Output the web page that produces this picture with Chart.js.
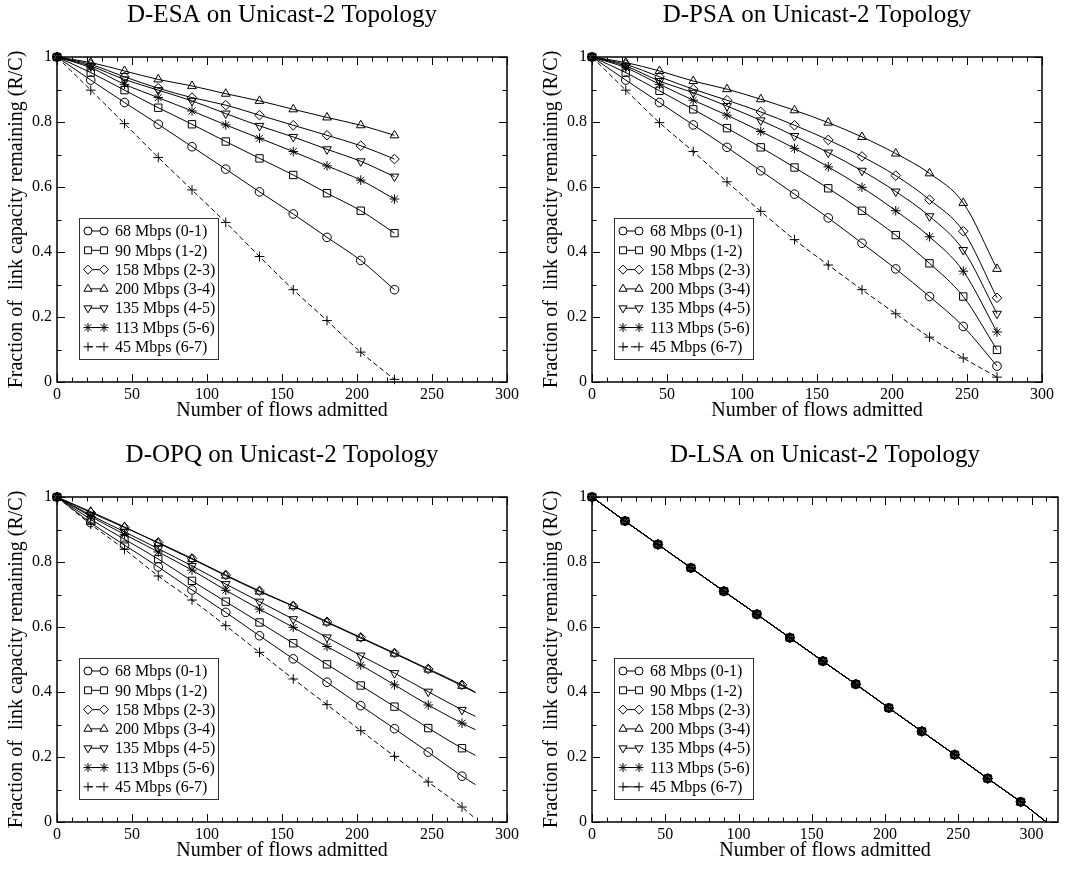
<!DOCTYPE html>
<html lang="en">
<head>
<meta charset="UTF-8">
<title>Link capacity remaining - Unicast-2 Topology</title>
<script src="https://cdn.jsdelivr.net/npm/chart.js@4.4.0/dist/chart.umd.min.js"></script>
<style>
  * { margin:0; padding:0; box-sizing:border-box; }
  body { background:#fff; width:1075px; height:871px; position:relative; overflow:hidden; }
  .panel { position:absolute; }
  #p1 { left:0; top:0; }
  #p2 { left:535px; top:0; }
  #p3 { left:0; top:440px; }
  #p4 { left:535px; top:440px; }
</style>
</head>
<body>
<div class="panel" id="p1"><canvas id="cEsa" width="537" height="430"></canvas></div>
<div class="panel" id="p2"><canvas id="cPsa" width="540" height="430"></canvas></div>
<div class="panel" id="p3"><canvas id="cOpq" width="537" height="430"></canvas></div>
<div class="panel" id="p4"><canvas id="cLsa" width="540" height="430"></canvas></div>

<script>
// ---- data ----
const seriesLabels = ['68 Mbps (0-1)','90 Mbps (1-2)','158 Mbps (2-3)','200 Mbps (3-4)','135 Mbps (4-5)','113 Mbps (5-6)','45 Mbps (6-7)'];
const xTitle = 'Number of flows admitted';
const yTitle = 'Fraction of  link capacity remaining (R/C)';

// D-ESA
const xEsa   = [0, 22.5, 45, 67.5, 90, 112.5, 135, 157.5, 180, 202.5, 225];
const esa68  = [1, 0.929, 0.860, 0.793, 0.724, 0.655, 0.585, 0.517, 0.445, 0.374, 0.284];
const esa90  = [1, 0.952, 0.898, 0.844, 0.793, 0.740, 0.688, 0.637, 0.581, 0.527, 0.458];
const esa158 = [1, 0.977, 0.939, 0.904, 0.875, 0.852, 0.821, 0.790, 0.759, 0.727, 0.686];
const esa200 = [1, 0.983, 0.957, 0.931, 0.911, 0.887, 0.865, 0.839, 0.814, 0.790, 0.759];
const esa135 = [1, 0.972, 0.931, 0.898, 0.865, 0.826, 0.788, 0.754, 0.716, 0.679, 0.632];
const esa113 = [1, 0.967, 0.916, 0.875, 0.834, 0.791, 0.750, 0.709, 0.665, 0.621, 0.563];
const esa45  = [1, 0.898, 0.795, 0.691, 0.591, 0.491, 0.386, 0.284, 0.189, 0.092, 0.008];

// D-PSA
const xPsa   = [0, 22.5, 45, 67.5, 90, 112.5, 135, 157.5, 180, 202.5, 225, 247.5, 270];
const psa68  = [1, 0.929, 0.860, 0.791, 0.722, 0.650, 0.578, 0.505, 0.427, 0.348, 0.263, 0.171, 0.049];
const psa90  = [1, 0.952, 0.896, 0.839, 0.781, 0.722, 0.660, 0.596, 0.527, 0.452, 0.365, 0.263, 0.099];
const psa158 = [1, 0.977, 0.939, 0.901, 0.867, 0.831, 0.790, 0.745, 0.694, 0.635, 0.561, 0.464, 0.259];
const psa200 = [1, 0.983, 0.957, 0.926, 0.901, 0.870, 0.836, 0.798, 0.754, 0.703, 0.642, 0.551, 0.348];
const psa135 = [1, 0.972, 0.926, 0.890, 0.849, 0.805, 0.757, 0.706, 0.650, 0.586, 0.510, 0.406, 0.210];
const psa113 = [1, 0.967, 0.916, 0.867, 0.821, 0.771, 0.719, 0.662, 0.599, 0.527, 0.447, 0.341, 0.154];
const psa45  = [1, 0.898, 0.798, 0.709, 0.616, 0.525, 0.438, 0.360, 0.284, 0.210, 0.138, 0.074, 0.015];

// D-OPQ (last point has no marker)
const xOpq   = [0, 22.5, 45, 67.5, 90, 112.5, 135, 157.5, 180, 202.5, 225, 247.5, 270, 279];
const opq68  = [1, 0.921, 0.852, 0.785, 0.714, 0.645, 0.573, 0.502, 0.430, 0.358, 0.287, 0.215, 0.141, 0.115];
const opq90  = [1, 0.931, 0.870, 0.809, 0.742, 0.678, 0.614, 0.550, 0.485, 0.420, 0.355, 0.289, 0.227, 0.205];
const opq158 = [1, 0.952, 0.906, 0.860, 0.811, 0.760, 0.711, 0.665, 0.616, 0.568, 0.520, 0.471, 0.422, 0.399];
const opq200 = [1, 0.955, 0.908, 0.858, 0.809, 0.758, 0.709, 0.664, 0.614, 0.566, 0.518, 0.469, 0.419, 0.398];
const opq135 = [1, 0.944, 0.893, 0.841, 0.788, 0.732, 0.678, 0.624, 0.568, 0.512, 0.458, 0.401, 0.345, 0.325];
const opq113 = [1, 0.940, 0.885, 0.831, 0.775, 0.713, 0.655, 0.599, 0.540, 0.483, 0.422, 0.360, 0.304, 0.284];
const opq45  = [1, 0.916, 0.839, 0.757, 0.683, 0.604, 0.522, 0.440, 0.361, 0.281, 0.202, 0.123, 0.046, 0.010];

// D-LSA: all seven series lie on the same line (last point has no marker)
const xLsa = [0, 22.5, 45, 67.5, 90, 112.5, 135, 157.5, 180, 202.5, 225, 247.5, 270, 292.5, 310];
const lsaY = [1, 0.926, 0.854, 0.782, 0.710, 0.639, 0.567, 0.495, 0.424, 0.351, 0.279, 0.207, 0.134, 0.062, 0];

// marker look per series (circle, square, diamond, up/down triangle, star, plus)
const markers = [
  {pointStyle:'circle',   radius:4.3, rotation:0},
  {pointStyle:'rect',     radius:5.2, rotation:0},
  {pointStyle:'rectRot',  radius:4.8, rotation:0},
  {pointStyle:'triangle', radius:5,   rotation:0},
  {pointStyle:'triangle', radius:5,   rotation:180},
  {pointStyle:'star',     radius:4.8, rotation:0},
  {pointStyle:'cross',    radius:4.8, rotation:0}
];

const SERIF = "'Liberation Serif', 'Times New Roman', serif";

// frame + inward ticks on all four sides (xmgrace look)
const framePlugin = {
  id:'frame',
  beforeDatasetsDraw(chart){
    const {ctx, chartArea:a, scales:{x, y}} = chart;
    ctx.save();
    ctx.strokeStyle = '#000';
    ctx.lineWidth = 1;
    ctx.beginPath();
    for (let v = 0; v <= x.max + 1e-6; v += 10) {
      const px = Math.round(x.getPixelForValue(v)) + 0.5;
      const len = (Math.round(v) % 50 === 0) ? 8 : 4.5;
      ctx.moveTo(px, a.bottom); ctx.lineTo(px, a.bottom - len);
      ctx.moveTo(px, a.top); ctx.lineTo(px, a.top + len);
    }
    for (let i = 0; i <= 10; i++) {
      const py = Math.round(y.getPixelForValue(i / 10)) + 0.5;
      const len = (i % 2 === 0) ? 8 : 4.5;
      ctx.moveTo(a.left, py); ctx.lineTo(a.left + len, py);
      ctx.moveTo(a.right, py); ctx.lineTo(a.right - len, py);
    }
    ctx.stroke();
    ctx.lineWidth = 1.5;
    ctx.strokeRect(a.left, a.top, a.right - a.left, a.bottom - a.top);
    ctx.restore();
  }
};

// boxed legend inside plot: symbol - line - symbol, label
const legendPlugin = {
  id:'boxLegend',
  afterDatasetsDraw(chart){
    const {ctx, chartArea:a} = chart;
    const bx = a.left + 22, by = a.top + 161, bw = 139, bh = 141;
    ctx.save();
    ctx.fillStyle = '#fff';
    ctx.fillRect(bx, by, bw, bh);
    ctx.strokeStyle = '#333';
    ctx.lineWidth = 1;
    ctx.strokeRect(bx + 0.5, by + 0.5, bw, bh);
    ctx.font = '16px ' + SERIF;
    ctx.textBaseline = 'middle';
    chart.data.datasets.forEach((ds, i) => {
      const cy = by + 13 + i * 19.3;
      const x1 = bx + 9, x2 = bx + 25;
      ctx.strokeStyle = '#000';
      ctx.lineWidth = 1;
      ctx.setLineDash(ds.borderDash || []);
      ctx.beginPath(); ctx.moveTo(x1, cy); ctx.lineTo(x2, cy); ctx.stroke();
      ctx.setLineDash([]);
      const m = markers[i];
      [x1, x2].forEach(px => {
        ctx.fillStyle = '#fff';
        ctx.strokeStyle = '#000';
        Chart.helpers.drawPoint(ctx, {pointStyle:m.pointStyle, rotation:m.rotation, radius:m.radius - 0.3, borderWidth:1}, px, cy);
      });
      ctx.fillStyle = '#000';
      ctx.fillText(ds.label, bx + 36, cy + 1);
    });
    ctx.restore();
  }
};

function makePanel(canvasId, title, xs, ys, xMax, padRight, dashLast, lastBare) {
  const datasets = ys.map((vals, i) => {
    const m = markers[i];
    const radii = vals.map((_, k) => (lastBare && k === vals.length - 1) ? 0 : m.radius);
    return {
      label: seriesLabels[i],
      data: vals.map((v, k) => ({x: xs[k], y: v})),
      borderColor:'#000',
      backgroundColor:'rgba(0,0,0,0)',
      borderWidth:1,
      borderDash: (dashLast && i === 6) ? [5, 3] : [],
      pointStyle: m.pointStyle,
      pointRotation: m.rotation,
      pointRadius: radii,
      pointBorderWidth: 1,
      pointBackgroundColor:'rgba(0,0,0,0)',
      pointBorderColor:'#000',
      cubicInterpolationMode:'monotone',
      clip:false
    };
  });
  return new Chart(document.getElementById(canvasId), {
    type:'line',
    data:{ datasets },
    plugins:[framePlugin, legendPlugin],
    options:{
      responsive:false,
      animation:false,
      layout:{ padding:{ left:0, right:padRight, top:0, bottom:0 } },
      plugins:{
        legend:{ display:false },
        tooltip:{ enabled:false },
        title:{ display:true, text:title, fullSize:false, color:'#000',
                font:{ family:SERIF, size:25, weight:'normal', lineHeight:1.2 },
                padding:{ top:0, bottom:27 } }
      },
      scales:{
        x:{ type:'linear', min:0, max:xMax,
            afterFit(s){ s.height = 48; },
            grid:{ display:false, drawTicks:false }, border:{ display:false },
            ticks:{ stepSize:50, includeBounds:false, color:'#000', padding:3, maxRotation:0,
                    font:{ family:SERIF, size:16 } },
            title:{ display:true, text:xTitle, color:'#000', padding:{ top:0, bottom:7 },
                    font:{ family:SERIF, size:20, lineHeight:1.2 } } },
        y:{ type:'linear', min:0, max:1,
            afterFit(s){ s.width = 57; },
            grid:{ display:false, drawTicks:false }, border:{ display:false },
            ticks:{ stepSize:0.2, color:'#000', padding:5, font:{ family:SERIF, size:16 },
                    callback:(v) => String(Math.round(v * 10) / 10) },
            title:{ display:true, text:yTitle, color:'#000', padding:{ top:5, bottom:0 },
                    font:{ family:SERIF, size:20, lineHeight:1.2 } } }
      }
    }
  });
}

makePanel('cEsa', 'D-ESA on Unicast-2 Topology', xEsa, [esa68, esa90, esa158, esa200, esa135, esa113, esa45], 300, 30, true, false);
makePanel('cPsa', 'D-PSA on Unicast-2 Topology', xPsa, [psa68, psa90, psa158, psa200, psa135, psa113, psa45], 300, 33, true, false);
makePanel('cOpq', 'D-OPQ on Unicast-2 Topology', xOpq, [opq68, opq90, opq158, opq200, opq135, opq113, opq45], 300, 30, true, true);
makePanel('cLsa', 'D-LSA on Unicast-2 Topology', xLsa, [lsaY, lsaY, lsaY, lsaY, lsaY, lsaY, lsaY], 318, 17, false, true);
</script>
</body>
</html>
